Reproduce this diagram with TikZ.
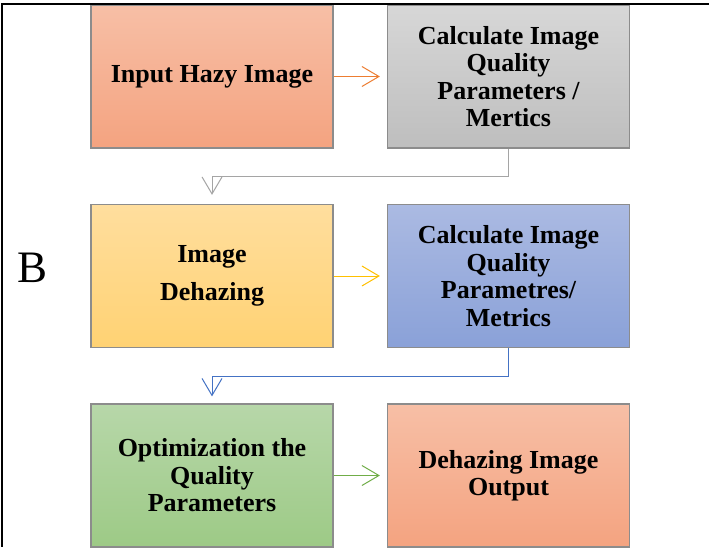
\documentclass[tikz,border=0pt]{standalone}
\usepackage{fontspec}
\setmainfont{Liberation Serif}
\usetikzlibrary{arrows.meta}
\definecolor{salT}{RGB}{247,191,166}
\definecolor{salB}{RGB}{244,163,128}
\definecolor{gryT}{RGB}{215,215,215}
\definecolor{gryB}{RGB}{190,190,190}
\definecolor{yelT}{RGB}{255,222,158}
\definecolor{yelB}{RGB}{255,210,115}
\definecolor{bluT}{RGB}{171,186,226}
\definecolor{bluB}{RGB}{138,161,216}
\definecolor{grnT}{RGB}{183,215,169}
\definecolor{grnB}{RGB}{157,202,134}
\definecolor{aOrange}{RGB}{237,125,49}
\definecolor{aGray}{RGB}{165,165,165}
\definecolor{aGold}{RGB}{255,192,0}
\definecolor{aBlue}{RGB}{68,114,196}
\definecolor{aGreen}{RGB}{112,173,71}
\tikzset{
  procbox/.style={rectangle, minimum width=242pt, minimum height=143pt, inner sep=0pt,
    draw=black!45, line width=1.2pt, align=center,
    font=\bfseries\fontsize{26}{27.5}\selectfont},
  flow/.style={line width=1pt, -{Straight Barb[length=17pt,width=20pt,line width=1pt]}, shorten >=7pt},
}
\begin{document}
\begin{tikzpicture}[x=1pt,y=1pt]
\useasboundingbox (0,0) rectangle (709,547);
\fill[white] (0,0) rectangle (709,547);
% boxes
\node[procbox, top color=salT, bottom color=salB] (b1) at (212,470.5) {Input Hazy Image};
\node[procbox, top color=gryT, bottom color=gryB] (b2) at (508.5,470.5) {Calculate Image\\Quality\\Parameters /\\Mertics};
\node[procbox, top color=yelT, bottom color=yelB] (b3) at (212,271) {Image\\[10pt]Dehazing};
\node[procbox, top color=bluT, bottom color=bluB] (b4) at (508.5,271) {Calculate Image\\Quality\\Parametres/\\Metrics};
\node[procbox, top color=grnT, bottom color=grnB] (b5) at (212,71.5) {Optimization the\\Quality\\Parameters};
\node[procbox, top color=salT, bottom color=salB] (b6) at (508.5,71.5) {Dehazing Image\\Output};
% label
\node[font=\fontsize{45}{45}\selectfont, inner sep=0pt] (lbl) at (33,279) {B};
% connectors
\draw[flow, aOrange] (b1.east) -- (b2.west);
\draw[flow, aGray, shorten >=9pt] (b2.south) -- ++(0,-28) -| (b3.north);
\draw[flow, aGold] (b3.east) -- (b4.west);
\draw[flow, aBlue] (b4.south) -- ++(0,-28) -| (b5.north);
\draw[flow, aGreen] (b5.east) -- (b6.west);
% frame
\draw[black, line width=2.2pt] (709,543) -- (2,543) -- (2,0);
\end{tikzpicture}
\end{document}
